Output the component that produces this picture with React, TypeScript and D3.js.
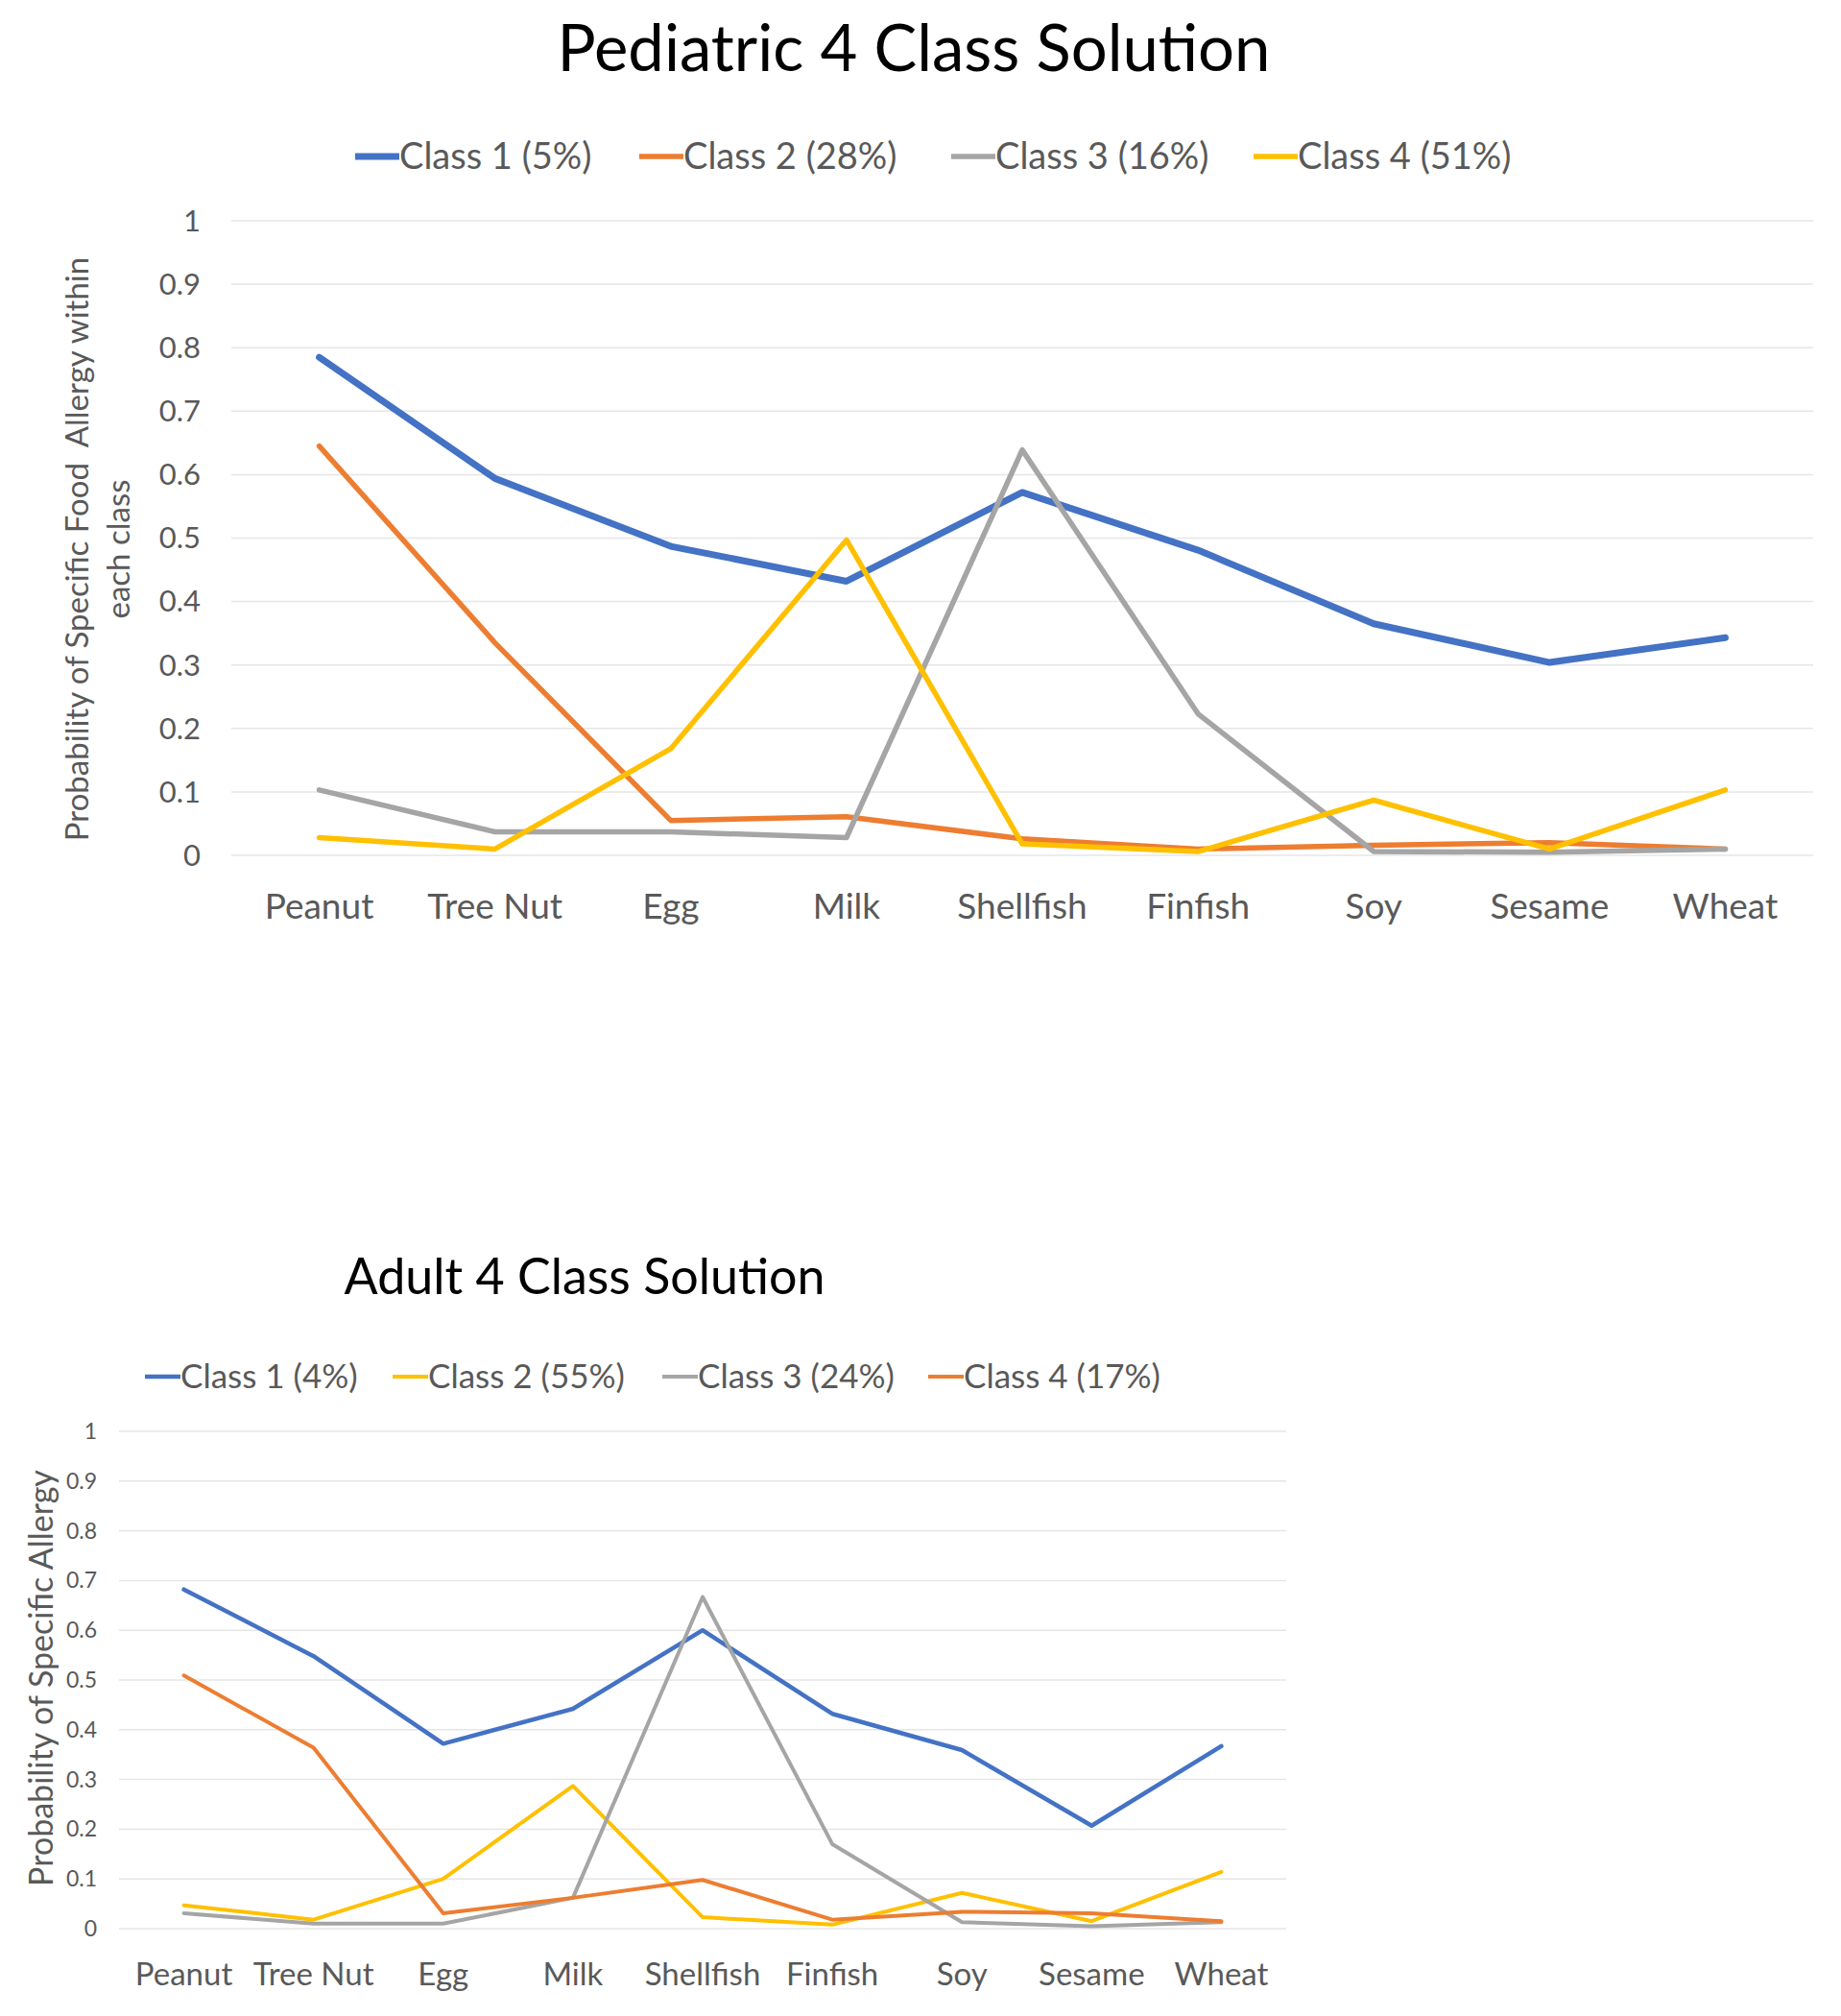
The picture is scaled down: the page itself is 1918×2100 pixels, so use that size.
import React from 'react';
import * as d3 from 'd3';

// shared categories
const foods = ['Peanut', 'Tree Nut', 'Egg', 'Milk', 'Shellfish', 'Finfish', 'Soy', 'Sesame', 'Wheat'];
const yTicks = [0, 0.1, 0.2, 0.3, 0.4, 0.5, 0.6, 0.7, 0.8, 0.9, 1];

// pediatric
const pedLabels = ['Class 1 (5%)', 'Class 2 (28%)', 'Class 3 (16%)', 'Class 4 (51%)'];
const pedColors = ['#4472C4', '#ED7D31', '#A5A5A5', '#FFC000'];
const pedClass1 = [0.785, 0.594, 0.487, 0.432, 0.572, 0.481, 0.365, 0.304, 0.343];
const pedClass2 = [0.645, 0.335, 0.055, 0.061, 0.026, 0.01, 0.016, 0.02, 0.01];
const pedClass3 = [0.103, 0.037, 0.037, 0.028, 0.639, 0.223, 0.006, 0.005, 0.01];
const pedClass4 = [0.028, 0.01, 0.168, 0.497, 0.018, 0.006, 0.087, 0.01, 0.103];

// adult
const adultLabels = ['Class 1 (4%)', 'Class 2 (55%)', 'Class 3 (24%)', 'Class 4 (17%)'];
const adultColors = ['#4472C4', '#FFC000', '#A5A5A5', '#ED7D31'];
const adultClass1 = [0.682, 0.548, 0.372, 0.442, 0.6, 0.432, 0.359, 0.207, 0.367];
const adultClass2 = [0.047, 0.018, 0.1, 0.287, 0.023, 0.008, 0.072, 0.015, 0.114];
const adultClass3 = [0.031, 0.01, 0.01, 0.062, 0.667, 0.17, 0.013, 0.005, 0.013];
const adultClass4 = [0.509, 0.364, 0.031, 0.062, 0.098, 0.018, 0.034, 0.031, 0.015];

const FONT = 'Lato, "Open Sans", sans-serif';

type ChartProps = {
  title: string;
  titleX: number;
  titleY: number;
  titleSize: number;
  series: number[][];
  labels: string[];
  colors: string[];
  legendX: number[];
  legendY: number;
  legendSize: number;
  legendLen: number;
  left: number;
  right: number;
  top: number;
  bottom: number;
  tickSize: number;
  tickGap: number;
  catSize: number;
  catY: number;
  yTitle: string[];
  yTitleX: number[];
  yTitleY: number;
  yTitleSize: number;
  lineWidths: number[];
};

const LineChart = (p: ChartProps) => {
  const x = d3.scaleBand().domain(foods).range([p.left, p.right]);
  const y = d3.scaleLinear().domain([0, 1]).range([p.bottom, p.top]);
  const line = d3.line<number>()
    .x((_, i) => x(foods[i])! + x.bandwidth() / 2)
    .y(d => y(d));

  return (
    <g>
      <text x={p.titleX} y={p.titleY} textAnchor="middle" fontSize={p.titleSize} fill="#000">{p.title}</text>

      {p.labels.map((lab, i) => (
        <g key={lab}>
          <line x1={p.legendX[i]} x2={p.legendX[i] + p.legendLen} y1={p.legendY} y2={p.legendY}
            stroke={p.colors[i]} strokeWidth={p.lineWidths[i]} />
          <text x={p.legendX[i] + p.legendLen} y={p.legendY} dy="0.35em" fontSize={p.legendSize} fill="#595959">{lab}</text>
        </g>
      ))}

      {yTicks.map(t => (
        <g key={t}>
          <line x1={p.left} x2={p.right} y1={y(t)} y2={y(t)} stroke="#E6E6E6" strokeWidth={1.5} />
          <text x={p.left - p.tickGap} y={y(t)} dy="0.35em" textAnchor="end" fontSize={p.tickSize} fill="#595959">{t}</text>
        </g>
      ))}

      {foods.map(f => (
        <text key={f} x={x(f)! + x.bandwidth() / 2} y={p.catY} dy="0.35em" textAnchor="middle"
          fontSize={p.catSize} fill="#595959">{f}</text>
      ))}

      {p.yTitle.map((t, i) => (
        <text key={t} transform={`translate(${p.yTitleX[i]},${p.yTitleY}) rotate(-90)`} textAnchor="middle"
          dy="0.35em" fontSize={p.yTitleSize} fill="#595959" style={{ whiteSpace: 'pre' }}>{t}</text>
      ))}

      {p.series.map((s, i) => (
        <path key={i} d={line(s) || ''} fill="none" stroke={p.colors[i]} strokeWidth={p.lineWidths[i]}
          strokeLinejoin="round" strokeLinecap="round" />
      ))}
    </g>
  );
};

export default function App() {
  return (
    <svg width={1918} height={2100} style={{ position: 'absolute', left: 0, top: 0, background: '#fff' }}
      fontFamily={FONT}>
      <LineChart
        title="Pediatric 4 Class Solution" titleX={952} titleY={74} titleSize={67}
        series={[pedClass1, pedClass2, pedClass3, pedClass4]}
        labels={pedLabels} colors={pedColors}
        legendX={[370, 666, 991, 1306]} legendY={163} legendSize={38} legendLen={46}
        left={241} right={1889} top={230} bottom={891}
        tickSize={31} tickGap={32} catSize={37} catY={944}
        yTitle={['Probability of Specific Food  Allergy within', 'each class']} yTitleX={[80, 123]}
        yTitleY={572} yTitleSize={33}
        lineWidths={[7, 5.5, 5.5, 5.5]}
      />
      <LineChart
        title="Adult 4 Class Solution" titleX={609} titleY={1348} titleSize={52}
        series={[adultClass1, adultClass2, adultClass3, adultClass4]}
        labels={adultLabels} colors={adultColors}
        legendX={[151, 409, 690, 967]} legendY={1434} legendSize={35} legendLen={37}
        left={124} right={1340} top={1491} bottom={2009}
        tickSize={23} tickGap={23} catSize={33} catY={2056}
        yTitle={['Probability of Specific Allergy']} yTitleX={[43]}
        yTitleY={1748} yTitleSize={34}
        lineWidths={[4.5, 4, 4, 4]}
      />
    </svg>
  );
}
